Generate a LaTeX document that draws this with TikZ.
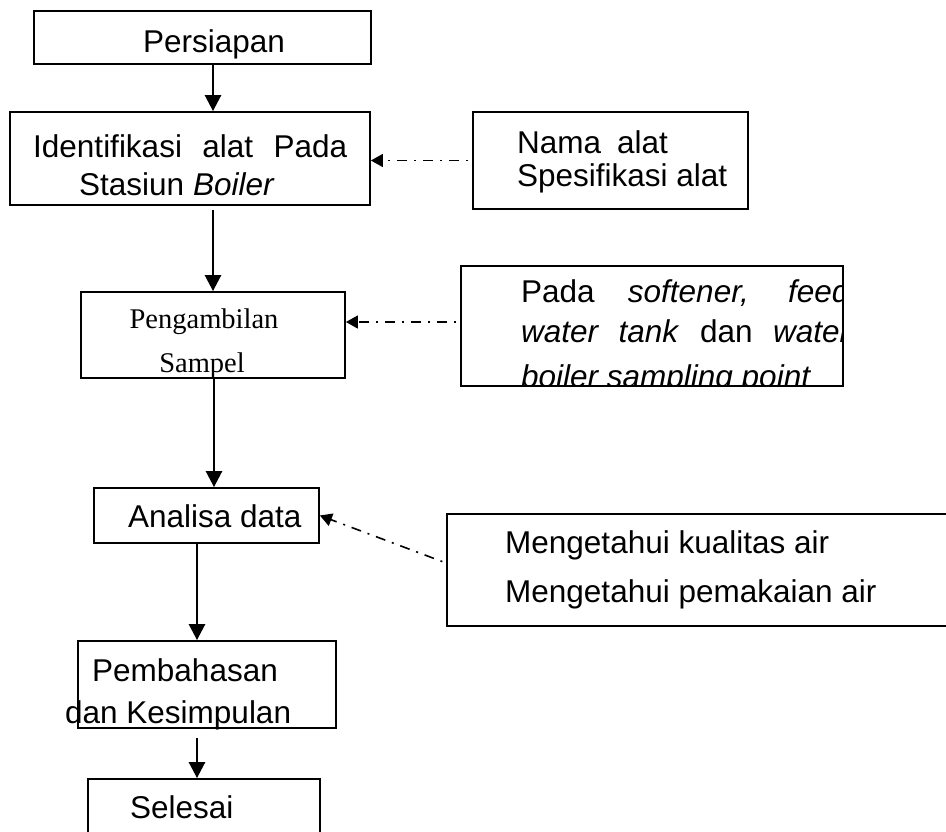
\documentclass[tikz,border=0pt]{standalone}
\usepackage{fontspec}
\setmainfont{Liberation Sans}
\newfontfamily\timesfont{Liberation Serif}
\usetikzlibrary{arrows.meta}
\begin{document}
\begin{tikzpicture}[x=1pt,y=-1pt,
  box/.style={draw, line width=1.8pt, inner sep=0pt, rectangle},
  flow/.style={line width=2.6pt, -{Triangle[length=16pt,width=16pt]}},
  hint/.style={line width=1.6pt, dash pattern=on 2pt off 7pt on 10pt off 7pt, dash phase=-4pt, -{Triangle[length=12pt,width=13pt]}},
  txt/.style={anchor=base west, inner sep=0pt, font=\fontsize{31.5}{36}\selectfont},
  stxt/.style={anchor=base, inner sep=0pt, font=\timesfont\fontsize{28.5}{34}\selectfont}]
\useasboundingbox (0,0) rectangle (946,831);
\clip (0,0) rectangle (946,831);
% boxes
\node[box, minimum width=337pt, minimum height=53pt] (pers) at (202.5,37.5) {};
\node[box, minimum width=360pt, minimum height=93pt] (iden) at (190,158.5) {};
\node[box, minimum width=275pt, minimum height=97pt] (nama) at (610.5,160.5) {};
\node[box, minimum width=264pt, minimum height=86pt] (peng) at (213,335) {};
\node[box, minimum width=382pt, minimum height=120pt] (pada) at (652,326) {};
\node[box, minimum width=225pt, minimum height=55pt] (anal) at (206.5,515.5) {};
\node[box, minimum width=513pt, minimum height=112pt] (meng) at (703.5,570) {};
\node[box, minimum width=258pt, minimum height=87pt] (pemb) at (207,684.5) {};
\node[box, minimum width=232pt, minimum height=71pt] (sele) at (204,814.5) {};
% texts
\node[txt] (t1) at (143,52) {Persiapan};
\node[txt] (t2a) at (33,157) {\makebox[314pt][s]{Identifikasi alat Pada}};
\node[txt] (t2b) at (79,195) {Stasiun \textit{Boiler}};
\node[txt] (t3a) at (517,153) {Nama\hspace{16pt}alat};
\node[txt] (t3b) at (517,186) {Spesifikasi alat};
\node[stxt] (t4a) at (204,328) {Pengambilan};
\node[stxt] (t4b) at (202,372) {Sampel};
\begin{scope}
  \clip ([shift={(0.9pt,-0.9pt)}]pada.north west) rectangle ([shift={(-0.9pt,0.9pt)}]pada.south east);
  \node[txt] (t5a) at (521,302) {\makebox[329pt][s]{Pada \textit{softener,} \textit{feed}}};
  \node[txt] (t5b) at (521,342) {\makebox[330pt][s]{\textit{water tank} dan \textit{water}}};
  \node[txt] (t5c) at (521,387) {\textit{boiler sampling point}};
\end{scope}
\node[txt] (t6) at (128,527) {Analisa data};
\node[txt] (t7a) at (505,553) {Mengetahui kualitas air};
\node[txt] (t7b) at (505,602) {Mengetahui pemakaian air};
\node[txt] (t8a) at (92,681) {Pembahasan};
\node[txt] (t8b) at (65,723) {dan Kesimpulan};
\node[txt] (t9) at (130,818) {Selesai};
% flow arrows
\draw[flow] ([xshift=10.5pt]pers.south) -- ([xshift=23pt]iden.north);
\draw[flow, shorten <=4pt] ([xshift=23pt]iden.south) -- ([xshift=0pt]peng.north);
\draw[flow] ([xshift=1pt]peng.south) -- ([xshift=7.5pt]anal.north);
\draw[flow] ([xshift=-9.5pt]anal.south) -- ([xshift=-10pt]pemb.north);
\draw[flow, shorten <=9pt] ([xshift=-10pt]pemb.south) -- ([xshift=-7pt]sele.north);
% hint arrows
\draw[hint] (nama.west) -- (nama.west -| iden.east);
\draw[hint] ([yshift=4pt]pada.west) -- ([yshift=4pt]pada.west -| peng.east);
\draw[hint] ([yshift=7pt]meng.west) -- (anal.east);
\end{tikzpicture}
\end{document}
